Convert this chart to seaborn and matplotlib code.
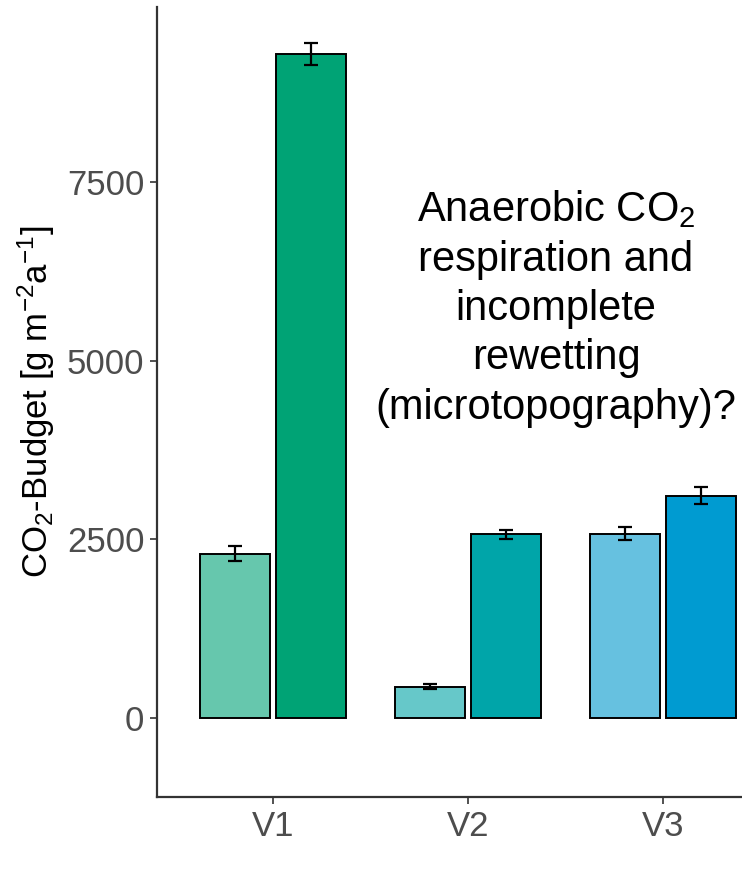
import matplotlib
matplotlib.use("Agg")
import matplotlib.pyplot as plt
import seaborn as sns
import pandas as pd

# ---- data ----
sites = ["V1", "V2", "V3"]
periods = ["before", "after"]
budget_before = [2300, 440, 2580]
budget_after = [9290, 2570, 3110]
se_before = [100, 40, 85]
se_after = [150, 60, 120]
bar_colors_before = ["#66c7ad", "#66c8c9", "#66c1e0"]
bar_colors_after = ["#00a375", "#00a5a9", "#009bd1"]
yticks = [0, 2500, 5000, 7500]
annotation = "Anaerobic CO$_2$\nrespiration and\nincomplete\nrewetting\n(microtopography)?"
ylabel = "CO$_2$-Budget [g m$^{-2}$a$^{-1}$]"

df = pd.DataFrame({
    "site": sites * 2,
    "period": [periods[0]] * 3 + [periods[1]] * 3,
    "value": budget_before + budget_after,
})

sns.set_theme(style="white")
plt.rcParams["font.family"] = ["Liberation Sans", "DejaVu Sans"]
plt.rcParams["mathtext.fontset"] = "custom"
plt.rcParams["mathtext.rm"] = "Liberation Sans"
plt.rcParams["mathtext.it"] = "Liberation Sans:italic"
plt.rcParams["mathtext.bf"] = "Liberation Sans:bold"
plt.rcParams["mathtext.default"] = "regular"

fig = plt.figure(figsize=(7.42, 8.73), dpi=100)
ax = fig.add_axes([157 / 742, 76 / 873, 623 / 742, 790 / 873])

sns.barplot(data=df, x="site", y="value", hue="period", order=sites,
            hue_order=periods, width=0.78, gap=0.09, errorbar=None,
            edgecolor="black", linewidth=1.4, legend=False, ax=ax,
            palette=["#888888", "#444444"])

colors = bar_colors_before + bar_colors_after
errs = se_before + se_after
vals = budget_before + budget_after
patches = [p for p in ax.patches]
for p, c in zip(patches, colors):
    p.set_facecolor(c)
centers = [p.get_x() + p.get_width() / 2 for p in patches]
ax.errorbar(centers, vals, yerr=errs, fmt="none", ecolor="black",
            elinewidth=1.6, capsize=5, capthick=1.6, zorder=5)

ax.set_xlim(-0.595, 2.6)
ax.set_ylim(-1105, 9945)
ax.set_yticks(yticks)
ax.set_yticklabels([str(t) for t in yticks])
ax.set_xlabel("")
ax.set_ylabel(ylabel, fontsize=25, color="black")
ax.yaxis.set_label_coords(-0.1605, 0.5)

for side in ["top", "right"]:
    ax.spines[side].set_visible(False)
for side in ["left", "bottom"]:
    ax.spines[side].set_color("#333333")
    ax.spines[side].set_linewidth(1.6)
ax.tick_params(axis="both", which="major", length=5, width=1.2,
               color="#333333", labelsize=25, labelcolor="#4d4d4d",
               pad=4, left=True, bottom=True)

fig.text(556 / 742, 1 - 308 / 873, annotation, fontsize=30, ha="center",
         va="center", linespacing=1.3, color="black")

fig.savefig("out.png", dpi=100)
